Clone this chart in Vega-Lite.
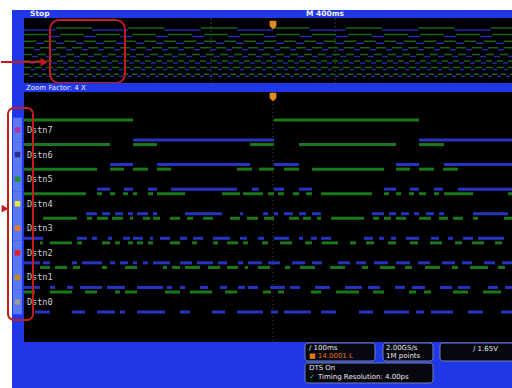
{
 "$schema": "https://vega.github.io/schema/vega-lite/v6.json",
 "background": "white",
 "padding": {"left": 0, "top": 10, "right": 0, "bottom": 0},
 "spacing": 0,
 "bounds": "flush",
 "config": {"view": {"stroke": null}, "axis": {"disable": true}, "legend": {"disable": true}, "text": {"font": "DejaVu Sans"}, "concat": {"spacing": 0}},
 "resolve": {"scale": {"x": "independent", "y": "independent", "color": "independent", "strokeDash": "independent"}},
 "datasets": {
  "chs": [{"ch":"Dstn7"},{"ch":"Dstn6"},{"ch":"Dstn5"},{"ch":"Dstn4"},{"ch":"Dstn3"},{"ch":"Dstn2"},{"ch":"Dstn1"},{"ch":"Dstn0"}],
  "ovr": [{"ch":"Dstn6"},{"ch":"Dstn5"},{"ch":"Dstn4"},{"ch":"Dstn3"},{"ch":"Dstn2"},{"ch":"Dstn1"},{"ch":"Dstn0"}],
  "ov7": [{"ch":"Dstn7","t":-1992,"s":0},{"ch":"Dstn7","t":-1738,"s":1},{"ch":"Dstn7","t":-1448,"s":0},{"ch":"Dstn7","t":-1158,"s":1},{"ch":"Dstn7","t":-868,"s":0},{"ch":"Dstn7","t":-578,"s":1},{"ch":"Dstn7","t":-288,"s":0},{"ch":"Dstn7","t":2,"s":1},{"ch":"Dstn7","t":292,"s":0},{"ch":"Dstn7","t":582,"s":1},{"ch":"Dstn7","t":872,"s":0},{"ch":"Dstn7","t":1162,"s":1},{"ch":"Dstn7","t":1452,"s":0},{"ch":"Dstn7","t":1742,"s":1},{"ch":"Dstn7","t":1912,"s":0}],
  "main": [
   {"ch":"Dstn7","t":-498,"s":1},{"ch":"Dstn7","t":-280,"s":0},{"ch":"Dstn7","t":2,"s":1},{"ch":"Dstn7","t":292,"s":0},{"ch":"Dstn7","t":478,"s":0},
   {"ch":"Dstn6","t":-498,"s":1},{"ch":"Dstn6","t":-326,"s":0},{"ch":"Dstn6","t":-280,"s":1},{"ch":"Dstn6","t":-232,"s":0},{"ch":"Dstn6","t":-46,"s":1},{"ch":"Dstn6","t":2,"s":0},{"ch":"Dstn6","t":52,"s":1},{"ch":"Dstn6","t":246,"s":0},{"ch":"Dstn6","t":292,"s":1},{"ch":"Dstn6","t":342,"s":0},{"ch":"Dstn6","t":478,"s":0},
   {"ch":"Dstn5","t":-498,"s":1},{"ch":"Dstn5","t":-352,"s":0},{"ch":"Dstn5","t":-326,"s":1},{"ch":"Dstn5","t":-298,"s":0},{"ch":"Dstn5","t":-280,"s":1},{"ch":"Dstn5","t":-250,"s":0},{"ch":"Dstn5","t":-232,"s":1},{"ch":"Dstn5","t":-204,"s":0},{"ch":"Dstn5","t":-72,"s":1},{"ch":"Dstn5","t":-42,"s":0},{"ch":"Dstn5","t":-28,"s":1},{"ch":"Dstn5","t":2,"s":0},{"ch":"Dstn5","t":22,"s":1},{"ch":"Dstn5","t":52,"s":0},{"ch":"Dstn5","t":78,"s":1},{"ch":"Dstn5","t":222,"s":0},{"ch":"Dstn5","t":246,"s":1},{"ch":"Dstn5","t":274,"s":0},{"ch":"Dstn5","t":292,"s":1},{"ch":"Dstn5","t":322,"s":0},{"ch":"Dstn5","t":340,"s":1},{"ch":"Dstn5","t":370,"s":0},{"ch":"Dstn5","t":478,"s":0},
   {"ch":"Dstn4","t":-498,"s":1},{"ch":"Dstn4","t":-374,"s":0},{"ch":"Dstn4","t":-352,"s":1},{"ch":"Dstn4","t":-342,"s":0},{"ch":"Dstn4","t":-326,"s":1},{"ch":"Dstn4","t":-316,"s":0},{"ch":"Dstn4","t":-300,"s":1},{"ch":"Dstn4","t":-290,"s":0},{"ch":"Dstn4","t":-280,"s":1},{"ch":"Dstn4","t":-272,"s":0},{"ch":"Dstn4","t":-250,"s":1},{"ch":"Dstn4","t":-240,"s":0},{"ch":"Dstn4","t":-232,"s":1},{"ch":"Dstn4","t":-176,"s":0},{"ch":"Dstn4","t":-102,"s":1},{"ch":"Dstn4","t":-66,"s":0},{"ch":"Dstn4","t":-60,"s":1},{"ch":"Dstn4","t":-20,"s":0},{"ch":"Dstn4","t":-10,"s":1},{"ch":"Dstn4","t":2,"s":0},{"ch":"Dstn4","t":10,"s":1},{"ch":"Dstn4","t":22,"s":0},{"ch":"Dstn4","t":40,"s":1},{"ch":"Dstn4","t":52,"s":0},{"ch":"Dstn4","t":66,"s":1},{"ch":"Dstn4","t":78,"s":0},{"ch":"Dstn4","t":96,"s":1},{"ch":"Dstn4","t":198,"s":0},{"ch":"Dstn4","t":222,"s":1},{"ch":"Dstn4","t":232,"s":0},{"ch":"Dstn4","t":246,"s":1},{"ch":"Dstn4","t":256,"s":0},{"ch":"Dstn4","t":272,"s":1},{"ch":"Dstn4","t":282,"s":0},{"ch":"Dstn4","t":292,"s":1},{"ch":"Dstn4","t":306,"s":0},{"ch":"Dstn4","t":322,"s":1},{"ch":"Dstn4","t":332,"s":0},{"ch":"Dstn4","t":342,"s":1},{"ch":"Dstn4","t":400,"s":0},{"ch":"Dstn4","t":470,"s":1},{"ch":"Dstn4","t":478,"s":0},
   {"ch":"Dstn3","t":-498,"s":0},{"ch":"Dstn3","t":-460,"s":1},{"ch":"Dstn3","t":-392,"s":0},{"ch":"Dstn3","t":-372,"s":1},{"ch":"Dstn3","t":-362,"s":0},{"ch":"Dstn3","t":-352,"s":1},{"ch":"Dstn3","t":-330,"s":0},{"ch":"Dstn3","t":-322,"s":1},{"ch":"Dstn3","t":-300,"s":0},{"ch":"Dstn3","t":-286,"s":1},{"ch":"Dstn3","t":-280,"s":0},{"ch":"Dstn3","t":-260,"s":1},{"ch":"Dstn3","t":-246,"s":0},{"ch":"Dstn3","t":-240,"s":1},{"ch":"Dstn3","t":-226,"s":0},{"ch":"Dstn3","t":-206,"s":1},{"ch":"Dstn3","t":-186,"s":0},{"ch":"Dstn3","t":-172,"s":1},{"ch":"Dstn3","t":-160,"s":0},{"ch":"Dstn3","t":-140,"s":1},{"ch":"Dstn3","t":-120,"s":0},{"ch":"Dstn3","t":-86,"s":1},{"ch":"Dstn3","t":-66,"s":0},{"ch":"Dstn3","t":-52,"s":1},{"ch":"Dstn3","t":-30,"s":0},{"ch":"Dstn3","t":-18,"s":1},{"ch":"Dstn3","t":2,"s":0},{"ch":"Dstn3","t":32,"s":1},{"ch":"Dstn3","t":52,"s":0},{"ch":"Dstn3","t":60,"s":1},{"ch":"Dstn3","t":76,"s":0},{"ch":"Dstn3","t":88,"s":1},{"ch":"Dstn3","t":96,"s":0},{"ch":"Dstn3","t":116,"s":1},{"ch":"Dstn3","t":182,"s":0},{"ch":"Dstn3","t":200,"s":1},{"ch":"Dstn3","t":212,"s":0},{"ch":"Dstn3","t":222,"s":1},{"ch":"Dstn3","t":236,"s":0},{"ch":"Dstn3","t":246,"s":1},{"ch":"Dstn3","t":266,"s":0},{"ch":"Dstn3","t":292,"s":1},{"ch":"Dstn3","t":316,"s":0},{"ch":"Dstn3","t":332,"s":1},{"ch":"Dstn3","t":350,"s":0},{"ch":"Dstn3","t":360,"s":1},{"ch":"Dstn3","t":380,"s":0},{"ch":"Dstn3","t":400,"s":1},{"ch":"Dstn3","t":410,"s":0},{"ch":"Dstn3","t":462,"s":1},{"ch":"Dstn3","t":478,"s":0},
   {"ch":"Dstn2","t":-498,"s":0},{"ch":"Dstn2","t":-466,"s":1},{"ch":"Dstn2","t":-460,"s":0},{"ch":"Dstn2","t":-446,"s":1},{"ch":"Dstn2","t":-402,"s":0},{"ch":"Dstn2","t":-392,"s":1},{"ch":"Dstn2","t":-382,"s":0},{"ch":"Dstn2","t":-342,"s":1},{"ch":"Dstn2","t":-326,"s":0},{"ch":"Dstn2","t":-316,"s":1},{"ch":"Dstn2","t":-306,"s":0},{"ch":"Dstn2","t":-290,"s":1},{"ch":"Dstn2","t":-280,"s":0},{"ch":"Dstn2","t":-272,"s":1},{"ch":"Dstn2","t":-260,"s":0},{"ch":"Dstn2","t":-250,"s":1},{"ch":"Dstn2","t":-240,"s":0},{"ch":"Dstn2","t":-206,"s":1},{"ch":"Dstn2","t":-186,"s":0},{"ch":"Dstn2","t":-162,"s":1},{"ch":"Dstn2","t":-152,"s":0},{"ch":"Dstn2","t":-120,"s":1},{"ch":"Dstn2","t":-110,"s":0},{"ch":"Dstn2","t":-92,"s":1},{"ch":"Dstn2","t":-70,"s":0},{"ch":"Dstn2","t":-60,"s":1},{"ch":"Dstn2","t":-50,"s":0},{"ch":"Dstn2","t":-22,"s":1},{"ch":"Dstn2","t":-10,"s":0},{"ch":"Dstn2","t":14,"s":1},{"ch":"Dstn2","t":38,"s":0},{"ch":"Dstn2","t":64,"s":1},{"ch":"Dstn2","t":78,"s":0},{"ch":"Dstn2","t":98,"s":1},{"ch":"Dstn2","t":130,"s":0},{"ch":"Dstn2","t":154,"s":1},{"ch":"Dstn2","t":166,"s":0},{"ch":"Dstn2","t":186,"s":1},{"ch":"Dstn2","t":202,"s":0},{"ch":"Dstn2","t":230,"s":1},{"ch":"Dstn2","t":246,"s":0},{"ch":"Dstn2","t":274,"s":1},{"ch":"Dstn2","t":290,"s":0},{"ch":"Dstn2","t":314,"s":1},{"ch":"Dstn2","t":338,"s":0},{"ch":"Dstn2","t":364,"s":1},{"ch":"Dstn2","t":378,"s":0},{"ch":"Dstn2","t":398,"s":1},{"ch":"Dstn2","t":422,"s":0},{"ch":"Dstn2","t":444,"s":1},{"ch":"Dstn2","t":458,"s":0},{"ch":"Dstn2","t":478,"s":0},
   {"ch":"Dstn1","t":-498,"s":0},{"ch":"Dstn1","t":-466,"s":1},{"ch":"Dstn1","t":-446,"s":0},{"ch":"Dstn1","t":-436,"s":1},{"ch":"Dstn1","t":-412,"s":0},{"ch":"Dstn1","t":-400,"s":1},{"ch":"Dstn1","t":-386,"s":0},{"ch":"Dstn1","t":-342,"s":1},{"ch":"Dstn1","t":-332,"s":0},{"ch":"Dstn1","t":-296,"s":1},{"ch":"Dstn1","t":-272,"s":0},{"ch":"Dstn1","t":-220,"s":1},{"ch":"Dstn1","t":-212,"s":0},{"ch":"Dstn1","t":-202,"s":1},{"ch":"Dstn1","t":-186,"s":0},{"ch":"Dstn1","t":-176,"s":1},{"ch":"Dstn1","t":-146,"s":0},{"ch":"Dstn1","t":-130,"s":1},{"ch":"Dstn1","t":-106,"s":0},{"ch":"Dstn1","t":-92,"s":1},{"ch":"Dstn1","t":-70,"s":0},{"ch":"Dstn1","t":-56,"s":1},{"ch":"Dstn1","t":-50,"s":0},{"ch":"Dstn1","t":-30,"s":1},{"ch":"Dstn1","t":-6,"s":0},{"ch":"Dstn1","t":24,"s":1},{"ch":"Dstn1","t":34,"s":0},{"ch":"Dstn1","t":54,"s":1},{"ch":"Dstn1","t":84,"s":0},{"ch":"Dstn1","t":114,"s":1},{"ch":"Dstn1","t":144,"s":0},{"ch":"Dstn1","t":178,"s":1},{"ch":"Dstn1","t":190,"s":0},{"ch":"Dstn1","t":214,"s":1},{"ch":"Dstn1","t":244,"s":0},{"ch":"Dstn1","t":264,"s":1},{"ch":"Dstn1","t":278,"s":0},{"ch":"Dstn1","t":304,"s":1},{"ch":"Dstn1","t":334,"s":0},{"ch":"Dstn1","t":358,"s":1},{"ch":"Dstn1","t":370,"s":0},{"ch":"Dstn1","t":394,"s":1},{"ch":"Dstn1","t":430,"s":0},{"ch":"Dstn1","t":450,"s":1},{"ch":"Dstn1","t":464,"s":0},{"ch":"Dstn1","t":478,"s":0},
   {"ch":"Dstn0","t":-498,"s":1},{"ch":"Dstn0","t":-476,"s":0},{"ch":"Dstn0","t":-446,"s":1},{"ch":"Dstn0","t":-402,"s":0},{"ch":"Dstn0","t":-376,"s":1},{"ch":"Dstn0","t":-352,"s":0},{"ch":"Dstn0","t":-316,"s":1},{"ch":"Dstn0","t":-306,"s":0},{"ch":"Dstn0","t":-296,"s":1},{"ch":"Dstn0","t":-272,"s":0},{"ch":"Dstn0","t":-216,"s":1},{"ch":"Dstn0","t":-186,"s":0},{"ch":"Dstn0","t":-166,"s":1},{"ch":"Dstn0","t":-122,"s":0},{"ch":"Dstn0","t":-96,"s":1},{"ch":"Dstn0","t":-72,"s":0},{"ch":"Dstn0","t":-20,"s":1},{"ch":"Dstn0","t":-4,"s":0},{"ch":"Dstn0","t":10,"s":1},{"ch":"Dstn0","t":22,"s":0},{"ch":"Dstn0","t":76,"s":1},{"ch":"Dstn0","t":96,"s":0},{"ch":"Dstn0","t":126,"s":1},{"ch":"Dstn0","t":172,"s":0},{"ch":"Dstn0","t":200,"s":1},{"ch":"Dstn0","t":222,"s":0},{"ch":"Dstn0","t":272,"s":1},{"ch":"Dstn0","t":286,"s":0},{"ch":"Dstn0","t":302,"s":1},{"ch":"Dstn0","t":316,"s":0},{"ch":"Dstn0","t":360,"s":1},{"ch":"Dstn0","t":390,"s":0},{"ch":"Dstn0","t":420,"s":1},{"ch":"Dstn0","t":456,"s":0},{"ch":"Dstn0","t":478,"s":0}
  ]
 },
 "vconcat": [
  {
   "width": 500, "height": 8,
   "view": {"fill": "#1f37e6", "stroke": null},
   "data": {"values": [{}]},
   "layer": [
    {"mark": {"type": "text", "text": "Stop", "align": "left", "baseline": "middle", "fill": "#f0f0ff", "fontSize": 7.5, "fontWeight": "bold"},
     "encoding": {"x": {"datum": -1944, "type": "quantitative", "scale": {"domain": [-2088, 1912], "nice": false, "zero": false}}}},
    {"mark": {"type": "text", "text": "M 400ms", "align": "left", "baseline": "middle", "fill": "#f0f0ff", "fontSize": 7.5, "fontWeight": "bold"},
     "encoding": {"x": {"datum": 264, "type": "quantitative", "scale": {"domain": [-2088, 1912], "nice": false, "zero": false}}}}
   ]
  },
  {
   "width": 500, "height": 65,
   "view": {"fill": "black", "stroke": null},
   "resolve": {"scale": {"strokeDash": "independent"}},
   "layer": [
    {"data": {"values": [{}]}, "mark": {"type": "rect", "color": "#1f37e6"},
     "encoding": {"x": {"datum": -2088, "type": "quantitative", "scale": {"domain": [-2088, 1912], "nice": false, "zero": false}}, "x2": {"datum": -1992}}},
    {"data": {"values": [{}]}, "mark": {"type": "rule", "color": "#3a3a3a", "strokeDash": [2, 2]},
     "encoding": {"x": {"datum": -496, "type": "quantitative", "scale": {"domain": [-2088, 1912], "nice": false, "zero": false}}}},
    {"data": {"values": [{}]}, "mark": {"type": "rule", "color": "#3a3a3a", "strokeDash": [2, 2]},
     "encoding": {"x": {"datum": 496, "type": "quantitative", "scale": {"domain": [-2088, 1912], "nice": false, "zero": false}}}},
    {"data": {"name": "ovr"}, "mark": {"type": "rule", "color": "#146414", "strokeWidth": 1.5, "yOffset": -1},
     "encoding": {
      "x": {"datum": -1992, "type": "quantitative", "scale": {"domain": [-2088, 1912], "nice": false, "zero": false}}, "x2": {"datum": 1912},
      "y": {"field": "ch", "type": "nominal", "scale": {"type": "band", "domain": ["Dstn7","Dstn6","Dstn5","Dstn4","Dstn3","Dstn2","Dstn1","Dstn0"], "range": [7.7, 60.5], "paddingInner": 0, "paddingOuter": 0}},
      "strokeDash": {"field": "ch", "type": "nominal", "legend": null, "scale": {"domain": ["Dstn6","Dstn5","Dstn4","Dstn3","Dstn2","Dstn1","Dstn0"], "range": [[24,12],[12,8],[10,6],[8,6],[6,5],[7,4],[5,4]]}}}},
    {"data": {"name": "ovr"}, "mark": {"type": "rule", "color": "#1e2aa8", "strokeWidth": 1.5, "yOffset": 1},
     "encoding": {
      "x": {"datum": -1992, "type": "quantitative", "scale": {"domain": [-2088, 1912], "nice": false, "zero": false}}, "x2": {"datum": 1912},
      "y": {"field": "ch", "type": "nominal", "scale": {"type": "band", "domain": ["Dstn7","Dstn6","Dstn5","Dstn4","Dstn3","Dstn2","Dstn1","Dstn0"], "range": [7.7, 60.5], "paddingInner": 0, "paddingOuter": 0}},
      "strokeDash": {"field": "ch", "type": "nominal", "legend": null, "scale": {"domain": ["Dstn6","Dstn5","Dstn4","Dstn3","Dstn2","Dstn1","Dstn0"], "range": [[0,24,12,0],[0,12,8,0],[0,10,6,0],[0,8,6,0],[0,6,5,0],[0,7,4,0],[0,5,4,0]]}}}},
    {"data": {"name": "ov7"},
     "transform": [{"window": [{"op": "lead", "field": "t", "as": "t1"}], "groupby": ["ch"], "sort": [{"field": "t"}]}, {"filter": "datum.t1 != null"}],
     "layer": [
      {"transform": [{"filter": "datum.s == 1"}], "mark": {"type": "rule", "color": "#146414", "strokeWidth": 1.5, "yOffset": -1},
       "encoding": {"x": {"field": "t", "type": "quantitative", "scale": {"domain": [-2088, 1912], "nice": false, "zero": false}}, "x2": {"field": "t1"},
        "y": {"field": "ch", "type": "nominal", "scale": {"type": "band", "domain": ["Dstn7","Dstn6","Dstn5","Dstn4","Dstn3","Dstn2","Dstn1","Dstn0"], "range": [7.7, 60.5], "paddingInner": 0, "paddingOuter": 0}}}},
      {"transform": [{"filter": "datum.s == 0"}], "mark": {"type": "rule", "color": "#1e2aa8", "strokeWidth": 1.5, "yOffset": 1},
       "encoding": {"x": {"field": "t", "type": "quantitative", "scale": {"domain": [-2088, 1912], "nice": false, "zero": false}}, "x2": {"field": "t1"},
        "y": {"field": "ch", "type": "nominal", "scale": {"type": "band", "domain": ["Dstn7","Dstn6","Dstn5","Dstn4","Dstn3","Dstn2","Dstn1","Dstn0"], "range": [7.7, 60.5], "paddingInner": 0, "paddingOuter": 0}}}}
     ]},
    {"data": {"values": [{}]}, "mark": {"type": "point", "filled": true, "color": "#e08a20", "opacity": 1, "size": 45, "yOffset": -4, "shape": "M-1,-1.3L1,-1.3L1,0.4L0,1.3L-1,0.4Z"},
     "encoding": {"x": {"datum": 0, "type": "quantitative", "scale": {"domain": [-2088, 1912], "nice": false, "zero": false}},
      "y": {"datum": "Dstn7", "type": "nominal", "scale": {"type": "band", "domain": ["Dstn7","Dstn6","Dstn5","Dstn4","Dstn3","Dstn2","Dstn1","Dstn0"], "range": [7.7, 60.5], "paddingInner": 0, "paddingOuter": 0}}}},
    {"data": {"values": [{}]}, "mark": {"type": "rect", "fill": null, "fillOpacity": 0, "stroke": "#c41c1c", "strokeWidth": 2, "cornerRadius": 9, "yOffset": 2, "y2Offset": -1},
     "encoding": {"x": {"datum": -1784, "type": "quantitative", "scale": {"domain": [-2088, 1912], "nice": false, "zero": false}}, "x2": {"datum": -1184}}},
    {"data": {"values": [{}]}, "mark": {"type": "rule", "color": "#c41c1c", "strokeWidth": 2},
     "encoding": {"x": {"datum": -2176, "type": "quantitative", "scale": {"domain": [-2088, 1912], "nice": false, "zero": false}}, "x2": {"datum": -1840},
      "y": {"datum": "Dstn2", "type": "nominal", "scale": {"type": "band", "domain": ["Dstn7","Dstn6","Dstn5","Dstn4","Dstn3","Dstn2","Dstn1","Dstn0"], "range": [7.7, 60.5], "paddingInner": 0, "paddingOuter": 0}}}},
    {"data": {"values": [{}]}, "mark": {"type": "point", "shape": "triangle-right", "filled": true, "color": "#c41c1c", "opacity": 1, "size": 70},
     "encoding": {"x": {"datum": -1830, "type": "quantitative", "scale": {"domain": [-2088, 1912], "nice": false, "zero": false}},
      "y": {"datum": "Dstn2", "type": "nominal", "scale": {"type": "band", "domain": ["Dstn7","Dstn6","Dstn5","Dstn4","Dstn3","Dstn2","Dstn1","Dstn0"], "range": [7.7, 60.5], "paddingInner": 0, "paddingOuter": 0}}}}
   ]
  },
  {
   "width": 500, "height": 9,
   "view": {"fill": "#1f37e6", "stroke": null},
   "data": {"values": [{}]},
   "mark": {"type": "text", "text": "Zoom Factor: 4 X", "align": "left", "baseline": "middle", "fill": "#f0f0ff", "fontSize": 7},
   "encoding": {"x": {"datum": -494, "type": "quantitative", "scale": {"domain": [-522, 478], "nice": false, "zero": false}}}
  },
  {
   "width": 500, "height": 250,
   "view": {"fill": "black", "stroke": null},
   "layer": [
    {"data": {"values": [{}]}, "mark": {"type": "rect", "color": "#1f37e6"},
     "encoding": {"x": {"datum": -522, "type": "quantitative", "scale": {"domain": [-522, 478], "nice": false, "zero": false}}, "x2": {"datum": -498}}},
    {"data": {"name": "chs"}, "mark": {"type": "rect", "color": "#5a78f0"},
     "encoding": {"x": {"datum": -520, "type": "quantitative", "scale": {"domain": [-522, 478], "nice": false, "zero": false}}, "x2": {"datum": -502},
      "y": {"field": "ch", "type": "nominal", "scale": {"type": "band", "domain": ["Dstn7","Dstn6","Dstn5","Dstn4","Dstn3","Dstn2","Dstn1","Dstn0"], "range": [25.7, 222.3], "paddingInner": 0, "paddingOuter": 0}}}},
    {"data": {"name": "chs"}, "mark": {"type": "point", "shape": "square", "filled": true, "opacity": 1, "size": 30},
     "encoding": {"x": {"datum": -511, "type": "quantitative", "scale": {"domain": [-522, 478], "nice": false, "zero": false}},
      "y": {"field": "ch", "type": "nominal", "scale": {"type": "band", "domain": ["Dstn7","Dstn6","Dstn5","Dstn4","Dstn3","Dstn2","Dstn1","Dstn0"], "range": [25.7, 222.3], "paddingInner": 0, "paddingOuter": 0}},
      "color": {"field": "ch", "type": "nominal", "legend": null, "scale": {"domain": ["Dstn7","Dstn6","Dstn5","Dstn4","Dstn3","Dstn2","Dstn1","Dstn0"], "range": ["#b030b0","#2a2a90","#1f8f2f","#e8e830","#e87820","#e02020","#c88820","#9a9a9a"]}}}},
    {"data": {"name": "chs"}, "mark": {"type": "text", "align": "left", "baseline": "middle", "fill": "#cfcfcf", "font": "DejaVu Sans Mono", "fontSize": 8.5},
     "encoding": {"x": {"datum": -492, "type": "quantitative", "scale": {"domain": [-522, 478], "nice": false, "zero": false}},
      "y": {"field": "ch", "type": "nominal", "scale": {"type": "band", "domain": ["Dstn7","Dstn6","Dstn5","Dstn4","Dstn3","Dstn2","Dstn1","Dstn0"], "range": [25.7, 222.3], "paddingInner": 0, "paddingOuter": 0}},
      "text": {"field": "ch"}}},
    {"data": {"values": [{}]}, "mark": {"type": "rule", "color": "#4a4a4a", "strokeDash": [1, 3]},
     "encoding": {"x": {"datum": 0, "type": "quantitative", "scale": {"domain": [-522, 478], "nice": false, "zero": false}}}},
    {"data": {"name": "main"},
     "transform": [{"window": [{"op": "lead", "field": "t", "as": "t1"}], "groupby": ["ch"], "sort": [{"field": "t"}]}, {"filter": "datum.t1 != null"}],
     "layer": [
      {"transform": [{"filter": "datum.s == 1"}], "mark": {"type": "rule", "color": "#1a781a", "strokeWidth": 3, "yOffset": -10},
       "encoding": {"x": {"field": "t", "type": "quantitative", "scale": {"domain": [-522, 478], "nice": false, "zero": false}}, "x2": {"field": "t1"},
        "y": {"field": "ch", "type": "nominal", "scale": {"type": "band", "domain": ["Dstn7","Dstn6","Dstn5","Dstn4","Dstn3","Dstn2","Dstn1","Dstn0"], "range": [25.7, 222.3], "paddingInner": 0, "paddingOuter": 0}}}},
      {"transform": [{"filter": "datum.s == 0"}], "mark": {"type": "rule", "color": "#2634c4", "strokeWidth": 3, "yOffset": 10},
       "encoding": {"x": {"field": "t", "type": "quantitative", "scale": {"domain": [-522, 478], "nice": false, "zero": false}}, "x2": {"field": "t1"},
        "y": {"field": "ch", "type": "nominal", "scale": {"type": "band", "domain": ["Dstn7","Dstn6","Dstn5","Dstn4","Dstn3","Dstn2","Dstn1","Dstn0"], "range": [25.7, 222.3], "paddingInner": 0, "paddingOuter": 0}}}}
     ]},
    {"data": {"values": [{}]}, "mark": {"type": "point", "filled": true, "color": "#e08a20", "opacity": 1, "size": 45, "yOffset": -33, "shape": "M-1,-1.3L1,-1.3L1,0.4L0,1.3L-1,0.4Z"},
     "encoding": {"x": {"datum": 0, "type": "quantitative", "scale": {"domain": [-522, 478], "nice": false, "zero": false}},
      "y": {"datum": "Dstn7", "type": "nominal", "scale": {"type": "band", "domain": ["Dstn7","Dstn6","Dstn5","Dstn4","Dstn3","Dstn2","Dstn1","Dstn0"], "range": [25.7, 222.3], "paddingInner": 0, "paddingOuter": 0}}}},
    {"data": {"values": [{}]}, "mark": {"type": "rect", "fill": null, "fillOpacity": 0, "stroke": "#c41c1c", "strokeWidth": 2, "cornerRadius": 6, "yOffset": -22, "y2Offset": 18},
     "encoding": {"x": {"datum": -530, "type": "quantitative", "scale": {"domain": [-522, 478], "nice": false, "zero": false}}, "x2": {"datum": -480},
      "y": {"datum": "Dstn7", "type": "nominal", "bandPosition": 0.5, "scale": {"type": "band", "domain": ["Dstn7","Dstn6","Dstn5","Dstn4","Dstn3","Dstn2","Dstn1","Dstn0"], "range": [25.7, 222.3], "paddingInner": 0, "paddingOuter": 0}},
      "y2": {"datum": "Dstn0", "bandPosition": 0.5}}},
    {"data": {"values": [{}]}, "mark": {"type": "point", "shape": "triangle-right", "filled": true, "color": "#c41c1c", "opacity": 1, "size": 60, "yOffset": 5},
     "encoding": {"x": {"datum": -536, "type": "quantitative", "scale": {"domain": [-522, 478], "nice": false, "zero": false}},
      "y": {"datum": "Dstn4", "type": "nominal", "scale": {"type": "band", "domain": ["Dstn7","Dstn6","Dstn5","Dstn4","Dstn3","Dstn2","Dstn1","Dstn0"], "range": [25.7, 222.3], "paddingInner": 0, "paddingOuter": 0}}}}
   ]
  },
  {
   "width": 500, "height": 46,
   "view": {"fill": "#1f37e6", "stroke": null},
   "data": {"values": [{}]},
   "layer": [
    {"mark": {"type": "rect", "fill": "#07070f", "stroke": "#7080b0", "strokeWidth": 1, "cornerRadius": 3},
     "encoding": {"x": {"datum": 64, "type": "quantitative", "scale": {"domain": [-522, 478], "nice": false, "zero": false}}, "x2": {"datum": 204},
      "y": {"datum": 1, "type": "quantitative", "scale": {"domain": [0, 46], "reverse": true, "nice": false, "zero": false}}, "y2": {"datum": 19}}},
    {"mark": {"type": "rect", "fill": "#07070f", "stroke": "#7080b0", "strokeWidth": 1, "cornerRadius": 3},
     "encoding": {"x": {"datum": 220, "type": "quantitative", "scale": {"domain": [-522, 478], "nice": false, "zero": false}}, "x2": {"datum": 320},
      "y": {"datum": 1, "type": "quantitative", "scale": {"domain": [0, 46], "reverse": true, "nice": false, "zero": false}}, "y2": {"datum": 19}}},
    {"mark": {"type": "rect", "fill": "#07070f", "stroke": "#7080b0", "strokeWidth": 1, "cornerRadius": 3},
     "encoding": {"x": {"datum": 334, "type": "quantitative", "scale": {"domain": [-522, 478], "nice": false, "zero": false}}, "x2": {"datum": 494},
      "y": {"datum": 1, "type": "quantitative", "scale": {"domain": [0, 46], "reverse": true, "nice": false, "zero": false}}, "y2": {"datum": 19}}},
    {"mark": {"type": "rect", "fill": "#07070f", "stroke": "#7080b0", "strokeWidth": 1, "cornerRadius": 3},
     "encoding": {"x": {"datum": 64, "type": "quantitative", "scale": {"domain": [-522, 478], "nice": false, "zero": false}}, "x2": {"datum": 320},
      "y": {"datum": 21, "type": "quantitative", "scale": {"domain": [0, 46], "reverse": true, "nice": false, "zero": false}}, "y2": {"datum": 41}}},
    {"mark": {"type": "text", "text": "/ 100ms", "align": "left", "baseline": "middle", "fill": "#e8e8e8", "fontSize": 7},
     "encoding": {"x": {"datum": 72, "type": "quantitative", "scale": {"domain": [-522, 478], "nice": false, "zero": false}}, "y": {"datum": 6, "type": "quantitative", "scale": {"domain": [0, 46], "reverse": true, "nice": false, "zero": false}}}},
    {"mark": {"type": "text", "text": "■ 14.0001 L", "align": "left", "baseline": "middle", "fill": "#e07818", "fontSize": 7},
     "encoding": {"x": {"datum": 72, "type": "quantitative", "scale": {"domain": [-522, 478], "nice": false, "zero": false}}, "y": {"datum": 14, "type": "quantitative", "scale": {"domain": [0, 46], "reverse": true, "nice": false, "zero": false}}}},
    {"mark": {"type": "text", "text": "2.00GS/s", "align": "left", "baseline": "middle", "fill": "#e8e8e8", "fontSize": 7},
     "encoding": {"x": {"datum": 226, "type": "quantitative", "scale": {"domain": [-522, 478], "nice": false, "zero": false}}, "y": {"datum": 6, "type": "quantitative", "scale": {"domain": [0, 46], "reverse": true, "nice": false, "zero": false}}}},
    {"mark": {"type": "text", "text": "1M points", "align": "left", "baseline": "middle", "fill": "#e8e8e8", "fontSize": 7},
     "encoding": {"x": {"datum": 226, "type": "quantitative", "scale": {"domain": [-522, 478], "nice": false, "zero": false}}, "y": {"datum": 14, "type": "quantitative", "scale": {"domain": [0, 46], "reverse": true, "nice": false, "zero": false}}}},
    {"mark": {"type": "text", "text": "/    1.65V", "align": "left", "baseline": "middle", "fill": "#e8e8e8", "fontSize": 7},
     "encoding": {"x": {"datum": 400, "type": "quantitative", "scale": {"domain": [-522, 478], "nice": false, "zero": false}}, "y": {"datum": 7, "type": "quantitative", "scale": {"domain": [0, 46], "reverse": true, "nice": false, "zero": false}}}},
    {"mark": {"type": "text", "text": "DTS On", "align": "left", "baseline": "middle", "fill": "#e8e8e8", "fontSize": 7},
     "encoding": {"x": {"datum": 72, "type": "quantitative", "scale": {"domain": [-522, 478], "nice": false, "zero": false}}, "y": {"datum": 26, "type": "quantitative", "scale": {"domain": [0, 46], "reverse": true, "nice": false, "zero": false}}}},
    {"mark": {"type": "text", "text": "✓", "align": "left", "baseline": "middle", "fill": "#30c030", "fontSize": 7},
     "encoding": {"x": {"datum": 72, "type": "quantitative", "scale": {"domain": [-522, 478], "nice": false, "zero": false}}, "y": {"datum": 35, "type": "quantitative", "scale": {"domain": [0, 46], "reverse": true, "nice": false, "zero": false}}}},
    {"mark": {"type": "text", "text": "Timing Resolution: 4.00ps", "align": "left", "baseline": "middle", "fill": "#e8e8e8", "fontSize": 7},
     "encoding": {"x": {"datum": 90, "type": "quantitative", "scale": {"domain": [-522, 478], "nice": false, "zero": false}}, "y": {"datum": 35, "type": "quantitative", "scale": {"domain": [0, 46], "reverse": true, "nice": false, "zero": false}}}}
   ]
  }
 ]
}
